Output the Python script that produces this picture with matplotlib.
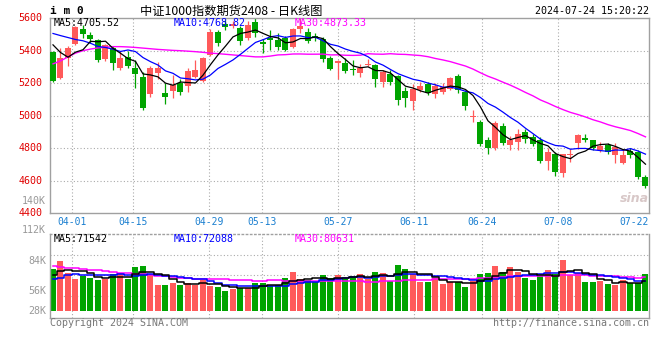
import numpy as np
import pandas as pd
import matplotlib
matplotlib.use('Agg')
import matplotlib.pyplot as plt

# ── data (80 trading days, 03-27 .. 07-24) ─────────────────────────────
opens  = [5395, 5231, 5358, 5442, 5532, 5497, 5463, 5348, 5415, 5296,
          5364, 5292, 5241, 5132, 5262, 5139, 5153, 5204, 5180, 5241,
          5214, 5374, 5514, 5565, 5550, 5538, 5477, 5579, 5456, 5481,
          5467, 5477, 5420, 5532, 5518, 5488, 5470, 5354, 5323, 5323,
          5284, 5264, 5311, 5311, 5208, 5255, 5243, 5153, 5091, 5157,
          5198, 5132, 5147, 5167, 5243, 5147, 4989, 4962, 4849, 4802,
          4935, 4818, 4839, 4901, 4870, 4853, 4722, 4767, 4648, 4757,
          4833, 4864, 4849, 4788, 4818, 4757, 4710, 4784, 4777, 4620]
highs  = [5400, 5415, 5426, 5549, 5559, 5518, 5473, 5442, 5428, 5400,
          5399, 5344, 5272, 5303, 5330, 5200, 5251, 5227, 5292, 5344,
          5364, 5534, 5528, 5590, 5585, 5555, 5584, 5600, 5473, 5528,
          5508, 5490, 5540, 5600, 5538, 5510, 5485, 5370, 5342, 5354,
          5342, 5321, 5352, 5321, 5284, 5284, 5249, 5177, 5198, 5208,
          5208, 5202, 5202, 5239, 5255, 5157, 5034, 4976, 4870, 4966,
          4956, 4874, 4921, 4921, 4886, 4870, 4804, 4777, 4767, 4798,
          4890, 4886, 4853, 4839, 4829, 4829, 4798, 4804, 4788, 4634]
lows   = [5210, 5225, 5303, 5436, 5477, 5446, 5333, 5337, 5282, 5282,
          5292, 5169, 5036, 5116, 5225, 5073, 5108, 5128, 5145, 5235,
          5210, 5370, 5426, 5530, 5540, 5436, 5467, 5487, 5384, 5405,
          5405, 5400, 5415, 5510, 5446, 5460, 5330, 5282, 5226, 5262,
          5249, 5239, 5305, 5177, 5177, 5188, 5065, 5054, 5038, 5147,
          5126, 5112, 5136, 5161, 5141, 5038, 4962, 4812, 4767, 4792,
          4818, 4788, 4788, 4829, 4812, 4710, 4665, 4628, 4624, 4716,
          4798, 4839, 4792, 4777, 4767, 4710, 4702, 4737, 4613, 4558]
closes = [5214, 5354, 5415, 5543, 5504, 5473, 5340, 5432, 5323, 5354,
          5307, 5255, 5046, 5292, 5295, 5114, 5190, 5145, 5276, 5282,
          5354, 5514, 5446, 5545, 5565, 5461, 5557, 5508, 5442, 5466,
          5422, 5405, 5534, 5549, 5461, 5477, 5350, 5288, 5337, 5276,
          5280, 5294, 5317, 5223, 5270, 5208, 5095, 5112, 5167, 5182,
          5141, 5182, 5177, 5229, 5157, 5061, 4997, 4825, 4802, 4956,
          4833, 4849, 4890, 4859, 4825, 4722, 4777, 4654, 4763, 4763,
          4880, 4853, 4804, 4812, 4777, 4808, 4757, 4757, 4620, 4566]
# volume in thousands
volumes = [96.4, 110.9, 89.7, 78.2, 84.2, 80.6, 76.4, 77.6, 87.3, 89.7,
           78.2, 100.6, 102.4, 87.3, 67.3, 67.3, 70.9, 67.3, 70.9, 67.3,
           76.4, 65.5, 63.6, 56.4, 60.6, 62.4, 62.4, 70.9, 70.9, 65.5,
           67.9, 80.0, 90.9, 78.2, 76.4, 72.7, 85.5, 80.0, 85.5, 77.6,
           83.6, 87.3, 77.6, 90.9, 89.1, 74.5, 103.6, 96.4, 87.3, 72.7,
           72.7, 80.0, 69.1, 72.7, 72.7, 63.6, 74.5, 87.3, 89.1, 101.8,
           90.9, 100.0, 90.9, 80.0, 76.4, 83.6, 94.5, 87.3, 112.7, 85.5,
           89.1, 72.7, 72.7, 74.5, 69.1, 67.3, 76.4, 70.3, 70.3, 87.3]

# moving-average values at the left edge (they depend on days before the window)
ma5_head  = [5436, 5389, 5360, 5391]
ma10_head = [5506, 5493, 5481, 5469, 5461, 5446, 5426, 5420, 5409]
ma30_head = [5319, 5337, 5362, 5385, 5400, 5410, 5417, 5422, 5425, 5425,
             5423, 5420, 5416, 5412, 5408, 5405, 5402, 5400, 5397, 5394,
             5390, 5385, 5382, 5378, 5374, 5370, 5366, 5362, 5362]
vma5_head  = [85.5, 93.3, 94.5, 92.7]
vma10_head = [77.6, 80.6, 85.5, 86.7, 86.0, 85.5, 85.5, 85.5, 85.5]
vma30_head = [101.8, 100.6, 97.6, 97.6, 96.4, 95.2, 93.9, 92.7, 91.5, 89.7,
              88.5, 87.3, 86.7, 85.5, 84.2, 83.1, 81.8, 80.6, 79.4, 78.8,
              78.2, 78.2, 78.2, 77.6, 77.0, 76.4, 75.8, 75.1, 74.5]

date_idx    = [3, 11, 21, 28, 38, 48, 57, 67, 77]
date_labels = ['04-01', '04-15', '04-29', '05-13', '05-27', '06-11', '06-24', '07-08', '07-22']
price_ticks = [5600, 5400, 5200, 5000, 4800, 4600, 4400]


def with_head(values, n, head):
    out = pd.Series(values).rolling(n).mean().to_numpy()
    out[:len(head)] = head
    return out


ma5, ma10, ma30 = (with_head(closes, n, h) for n, h in
                   [(5, ma5_head), (10, ma10_head), (30, ma30_head)])
vma5, vma10, vma30 = (with_head(volumes, n, h) for n, h in
                      [(5, vma5_head), (10, vma10_head), (30, vma30_head)])

# ── styling ───────────────────────────────────────────────────────────
W, H = 660, 360
RED, GREEN = '#ff5a5a', '#00a400'
GRID = dict(color='#aaaaaa', lw=0.8, ls=(0, (1, 2)))
MONO = 'DejaVu Sans Mono'
plt.rcParams['font.family'] = ['Noto Sans CJK SC', 'DejaVu Sans']


def fx(x):
    return x / W


def fy(y):
    return 1 - y / H


fig = plt.figure(figsize=(6.6, 3.6), dpi=100)
fig.patch.set_facecolor('white')

x = np.arange(len(closes))
o, h, l, c = map(np.array, (opens, highs, lows, closes))
up = c >= o
cols = np.where(up, RED, GREEN)
xlim = (-0.4, 79.47)
# sina's date grid drifts slightly against the candle pitch
grid_x = [i + (i - 38) * 0.0125 for i in date_idx]

# ── price panel ───────────────────────────────────────────────────────
ax = fig.add_axes([fx(50), fy(213.2), fx(599), (213.2 - 18.2) / H])
ax.set_xlim(*xlim)
ax.set_ylim(4400, 5600)
for yv in price_ticks[1:-1]:
    ax.axhline(yv, **GRID, zorder=0)
for gx in grid_x[:-1]:
    ax.axvline(gx, **GRID, zorder=0)
ax.vlines(x, l, h, colors=cols, lw=0.9, zorder=2)
ax.bar(x, np.maximum(np.abs(c - o), 5), bottom=np.minimum(o, c), width=0.8,
       color=cols, zorder=3, linewidth=0)
ax.plot(x, ma30, color='#ff00ff', lw=1.0, zorder=4)
ax.plot(x, ma10, color='#0000ff', lw=0.9, zorder=4)
ax.plot(x, ma5, color='black', lw=0.9, zorder=4)
ax.set_xticks([]); ax.set_yticks([])
for s in ax.spines.values():
    s.set_color('#a0a0a0'); s.set_linewidth(1.0)

# ── volume panel ──────────────────────────────────────────────────────
av = fig.add_axes([fx(50), fy(318.3), fx(599), (318.3 - 234.3) / H])
av.set_xlim(*xlim)
av.set_ylim(6.7, 159.5)
for f in (0.75, 0.51, 0.27):
    av.plot([0, 1], [f, f], transform=av.transAxes, **GRID, zorder=0)
for gx in grid_x[:-1]:
    av.axvline(gx, **GRID, zorder=0)
av.bar(x, np.array(volumes) - 20, bottom=20, width=0.8, color=cols,
       linewidth=0, zorder=2)
av.plot(x, vma30, color='#ff00ff', lw=1.1, drawstyle='steps-mid', zorder=3)
av.plot(x, vma10, color='#0000ff', lw=1.1, drawstyle='steps-mid', zorder=3)
av.plot(x, vma5, color='black', lw=1.1, drawstyle='steps-mid', zorder=3)
av.set_xticks([]); av.set_yticks([])
for s in av.spines.values():
    s.set_color('#a0a0a0'); s.set_linewidth(1.0)
av.spines['top'].set_linestyle((0, (1, 2)))

# ── texts ─────────────────────────────────────────────────────────────
fig.text(fx(50), fy(11), 'i m 0', family=MONO, fontsize=8, fontweight='bold', va='center')
fig.text(fx(140), fy(11), '中证1000指数期货2408 - 日K线图', fontsize=8.8, va='center')
fig.text(fx(649), fy(11.5), '2024-07-24 15:20:22', family=MONO, fontsize=7.2,
         ha='right', va='center')

fig.text(fx(54), fy(23.5), 'MA5:4705.52', family=MONO, fontsize=7.2, va='center', color='black')
fig.text(fx(174), fy(23.5), 'MA10:4768.82', family=MONO, fontsize=7.2, va='center', color='#0000ff')
fig.text(fx(295), fy(23.5), 'MA30:4873.33', family=MONO, fontsize=7.2, va='center', color='#ff00ff')

for yv in price_ticks:
    ax.text(-0.012, (yv - 4400) / 1200, str(yv), transform=ax.transAxes, family=MONO,
            fontsize=7.2, color='#e00000', ha='right', va='center')
fig.text(fx(46), fy(200.7), '140K', family=MONO, fontsize=7.2, color='#999999', ha='right', va='center')

for gx, lab in zip(grid_x, date_labels):
    ax.text(min(gx, 78.3), 4400 - 55, lab, family=MONO, fontsize=7, color='#1a7fd0',
            ha='center', va='center', clip_on=False)

fig.text(fx(54), fy(238.7), 'MA5:71542', family=MONO, fontsize=7.2, va='center', color='black')
fig.text(fx(174), fy(238.7), 'MA10:72088', family=MONO, fontsize=7.2, va='center', color='#0000ff')
fig.text(fx(295), fy(238.7), 'MA30:80631', family=MONO, fontsize=7.2, va='center', color='#ff00ff')

for lab, yy in [('112K', 230.5), ('84K', 261), ('56K', 291), ('28K', 311)]:
    fig.text(fx(46), fy(yy), lab, family=MONO, fontsize=7.2, color='#999999', ha='right', va='center')

fig.text(fx(634), fy(199), 'sina', family='DejaVu Sans', fontsize=9, fontstyle='italic',
         fontweight='bold', color='#d8c8c8', ha='center', va='center')

fig.text(fx(50), fy(323.5), 'Copyright 2024 SINA.COM', family=MONO, fontsize=7.2,
         color='#777777', va='center')
fig.text(fx(649), fy(323.5), 'http://finance.sina.com.cn', family=MONO, fontsize=7.2,
         color='#777777', ha='right', va='center')

fig.savefig('out.png', dpi=100)
